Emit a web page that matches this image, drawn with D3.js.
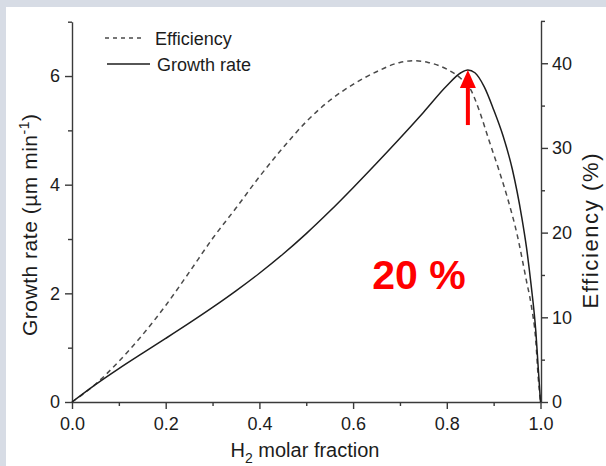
<!DOCTYPE html>
<html>
<head>
<meta charset="utf-8">
<script src="https://cdn.jsdelivr.net/npm/d3@7"></script>
<style>
  html, body { margin: 0; padding: 0; background: #fff; }
  svg { display: block; }
  text { font-family: "Liberation Sans", Arial, Helvetica, sans-serif; fill: #1c1c1c; }
</style>
</head>
<body>
<script>
// H2 molar fraction (x) for each measured point
const growthX = [0, 0.05, 0.1, 0.15, 0.2, 0.25, 0.3, 0.35, 0.4, 0.45, 0.5, 0.55, 0.6, 0.65, 0.7, 0.75, 0.8, 0.83, 0.845, 0.86, 0.88, 0.9, 0.92, 0.94, 0.96, 0.97, 0.98, 0.99, 0.995, 1.0];
// growth rate in µm/min
const growthY = [0, 0.32, 0.615, 0.895, 1.17, 1.45, 1.74, 2.045, 2.37, 2.72, 3.10, 3.51, 3.945, 4.395, 4.855, 5.33, 5.82, 6.06, 6.11, 6.06, 5.80, 5.38, 4.90, 4.28, 3.40, 2.85, 2.15, 1.30, 0.65, 0];

const effX = [0, 0.05, 0.1, 0.15, 0.2, 0.25, 0.3, 0.35, 0.4, 0.45, 0.5, 0.55, 0.6, 0.65, 0.7, 0.73, 0.76, 0.8, 0.83, 0.85, 0.87, 0.89, 0.91, 0.93, 0.95, 0.97, 0.98, 0.99, 0.995, 1.0];
// efficiency in %
const effY = [0, 2.1, 4.8, 7.9, 11.4, 15.3, 19.3, 22.9, 26.6, 30.0, 33.1, 35.6, 37.5, 39.0, 40.1, 40.3, 40.1, 39.3, 38.2, 37.0, 34.3, 30.9, 27.6, 24.0, 19.8, 14.3, 11.5, 7.2, 3.0, 0];

const xMajor = [0, 0.2, 0.4, 0.6, 0.8, 1.0];
const xMinor = [0.1, 0.3, 0.5, 0.7, 0.9];
const leftMajor = [0, 2, 4, 6];
const leftMinor = [1, 3, 5, 7];
const rightMajor = [0, 10, 20, 30, 40];
const rightMinor = [5, 15, 25, 35, 45];

const seriesNames = ["Efficiency", "Growth rate"];
const peakNote = "20 %";

const W = 606, H = 466;
const svg = d3.select("body").append("svg").attr("width", W).attr("height", H);

// page frame: grey strips along the top and left edges
svg.append("rect").attr("x", 0).attr("y", 0).attr("width", W).attr("height", H).attr("fill", "#d7dce5");
svg.append("rect").attr("x", 6).attr("y", 7).attr("width", W - 6).attr("height", H - 7).attr("fill", "#fff");

const x = d3.scaleLinear().domain([0, 1]).range([72, 540.5]);
const yL = d3.scaleLinear().domain([0, 7]).range([402, 21.7]);
const yR = d3.scaleLinear().domain([0, 45]).range([402, 20.9]);

const axisColor = "#3a3a3a";
function styleAxis(g) {
  g.select(".domain").attr("stroke", axisColor).attr("stroke-width", 1.4);
  g.selectAll(".tick line").attr("stroke", axisColor).attr("stroke-width", 1.4);
  g.selectAll(".tick text").style("font-size", "18px").attr("fill", "#1c1c1c");
}

// bottom axis
const gx = svg.append("g").attr("transform", "translate(0,402)")
  .call(d3.axisBottom(x).tickValues(xMajor).tickFormat(d3.format(".1f")).tickSize(7).tickSizeOuter(0).tickPadding(8));
styleAxis(gx);
const gxm = svg.append("g").attr("transform", "translate(0,402)")
  .call(d3.axisBottom(x).tickValues(xMinor).tickFormat("").tickSize(4).tickSizeOuter(0));
styleAxis(gxm); gxm.select(".domain").remove();

// left axis
const gl = svg.append("g").attr("transform", "translate(72,0)")
  .call(d3.axisLeft(yL).tickValues(leftMajor).tickFormat(d3.format("d")).tickSize(7).tickSizeOuter(0).tickPadding(5));
styleAxis(gl);
const glm = svg.append("g").attr("transform", "translate(72,0)")
  .call(d3.axisLeft(yL).tickValues(leftMinor).tickFormat("").tickSize(4).tickSizeOuter(0));
styleAxis(glm); glm.select(".domain").remove();

// right axis
const gr = svg.append("g").attr("transform", "translate(541,0)")
  .call(d3.axisRight(yR).tickValues(rightMajor).tickFormat(d3.format("d")).tickSize(7).tickSizeOuter(0).tickPadding(4));
styleAxis(gr);
const grm = svg.append("g").attr("transform", "translate(541,0)")
  .call(d3.axisRight(yR).tickValues(rightMinor).tickFormat("").tickSize(4).tickSizeOuter(0));
styleAxis(grm); grm.select(".domain").remove();

// curves
const growthData = growthX.map((v, i) => [v, growthY[i]]);
const effData = effX.map((v, i) => [v, effY[i]]);

svg.append("path").datum(effData)
  .attr("fill", "none").attr("stroke", "#4a4a4a").attr("stroke-width", 1.5)
  .attr("stroke-dasharray", "5,4")
  .attr("d", d3.line().x(d => x(d[0])).y(d => yR(d[1])).curve(d3.curveMonotoneX));

svg.append("path").datum(growthData)
  .attr("fill", "none").attr("stroke", "#1e1e1e").attr("stroke-width", 1.5)
  .attr("d", d3.line().x(d => x(d[0])).y(d => yL(d[1])).curve(d3.curveMonotoneX));

// legend
const lg = svg.append("g");
lg.append("line").attr("x1", 105).attr("x2", 144).attr("y1", 38).attr("y2", 38)
  .attr("stroke", "#4a4a4a").attr("stroke-width", 1.3).attr("stroke-dasharray", "4,4");
lg.append("text").attr("x", 155).attr("y", 45).style("font-size", "18px").text(seriesNames[0]);
lg.append("line").attr("x1", 107).attr("x2", 150).attr("y1", 64).attr("y2", 64)
  .attr("stroke", "#1e1e1e").attr("stroke-width", 1.5);
lg.append("text").attr("x", 157).attr("y", 71).style("font-size", "18px").text(seriesNames[1]);

// axis titles
const xt = svg.append("text").attr("x", 305).attr("y", 457).attr("text-anchor", "middle").style("font-size", "20px");
xt.append("tspan").text("H");
xt.append("tspan").attr("dy", 6).style("font-size", "14px").text("2");
xt.append("tspan").attr("dy", -6).text(" molar fraction");

const ylt = svg.append("text").attr("transform", "translate(37,225) rotate(-90)").attr("text-anchor", "middle")
  .style("font-size", "21px").attr("textLength", 222).attr("lengthAdjust", "spacing");
ylt.append("tspan").text("Growth rate (\u00b5m min");
ylt.append("tspan").attr("dy", -8).style("font-size", "14px").text("-1");
ylt.append("tspan").attr("dy", 8).text(")");

svg.append("text").attr("transform", "translate(598,231) rotate(-90)").attr("text-anchor", "middle")
  .style("font-size", "22px").attr("textLength", 155).attr("lengthAdjust", "spacing").text("Efficiency (%)");

// peak marker: red arrow pointing at the growth-rate maximum
const iPeak = d3.maxIndex(growthY);
const px = x(growthX[iPeak]), py = yL(growthY[iPeak]);
const red = "#ff0000";
svg.append("line").attr("x1", px).attr("x2", px).attr("y1", py + 16).attr("y2", py + 55)
  .attr("stroke", red).attr("stroke-width", 4);
svg.append("path").attr("fill", red)
  .attr("d", `M${px},${py} L${px - 8},${py + 18} L${px + 8},${py + 18} Z`);

svg.append("text").attr("x", 419).attr("y", 289).attr("text-anchor", "middle")
  .style("font-size", "41px").style("font-weight", "bold").attr("fill", red).style("fill", red)
  .text(peakNote);
</script>
</body>
</html>
